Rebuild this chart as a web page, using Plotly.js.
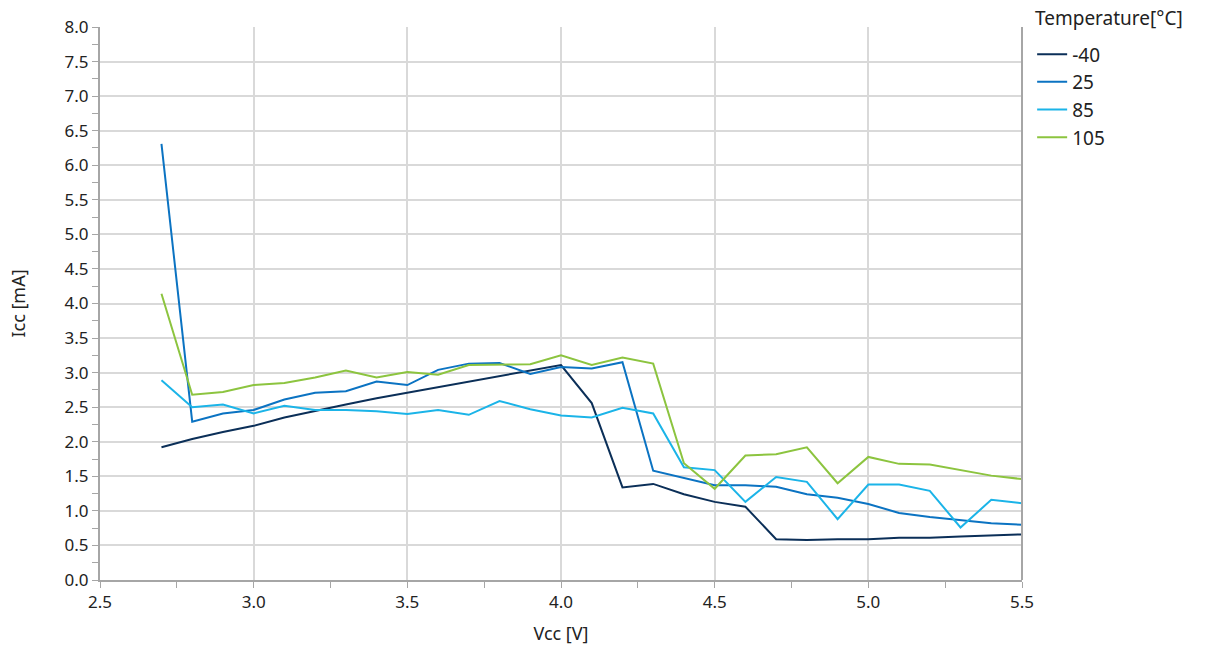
<!DOCTYPE html>
<html>
<head>
<meta charset="utf-8">
<script src="https://cdn.plot.ly/plotly-3.0.1.min.js"></script>
<style>html,body{margin:0;padding:0;background:#fff;}#chart{width:1206px;height:649px;}</style>
</head>
<body>
<div id="chart"></div>
<script>
const vcc = [2.7,2.8,2.9,3.0,3.1,3.2,3.3,3.4,3.5,3.6,3.7,3.8,3.9,4.0,4.1,4.2,4.3,4.4,4.5,4.6,4.7,4.8,4.9,5.0,5.1,5.2,5.3,5.4,5.5];
const seriesNames = ["-40","25","85","105"];
const legendTitle = "Temperature[°C]";
const iccM40 = [1.92,2.04,2.14,2.23,2.35,2.45,2.54,2.63,2.71,2.79,2.87,2.95,3.03,3.11,2.56,1.34,1.39,1.24,1.13,1.06,0.59,0.58,0.59,0.59,0.61,0.61,0.63,0.65,0.66];
const icc25  = [6.31,2.29,2.41,2.46,2.61,2.71,2.73,2.87,2.82,3.04,3.13,3.14,2.98,3.08,3.06,3.15,1.58,1.48,1.37,1.37,1.35,1.24,1.19,1.10,0.97,0.91,0.86,0.82,0.80];
const icc85  = [2.89,2.50,2.54,2.41,2.52,2.46,2.46,2.44,2.40,2.46,2.39,2.59,2.47,2.38,2.35,2.49,2.41,1.63,1.59,1.13,1.49,1.42,0.88,1.38,1.38,1.29,0.76,1.16,1.11];
const icc105 = [4.14,2.68,2.72,2.82,2.85,2.93,3.03,2.93,3.01,2.97,3.11,3.11,3.12,3.25,3.11,3.22,3.13,1.69,1.32,1.80,1.82,1.92,1.40,1.78,1.68,1.67,1.59,1.51,1.46];
const colors = ["#0b2f58","#0b73c2","#1bb4e8","#8cc43f"];
const allY = [iccM40, icc25, icc85, icc105];

const traces = allY.map((y,i)=>({
  x: vcc, y: y, name: seriesNames[i], type: 'scatter', mode: 'lines',
  line: {color: colors[i], width: 2}
}));

const font = "Noto Sans, Open Sans, sans-serif";
const layout = {
  width: 1206, height: 649,
  margin: {l: 100, r: 184, t: 27, b: 69, autoexpand: false},
  paper_bgcolor: '#fff', plot_bgcolor: '#fff',
  font: {family: font, size: 16, color: '#222'},
  showlegend: true,
  legend: {
    x: 1.011, xanchor: 'left', y: 0.985, yanchor: 'top',
    font: {size: 19, color: '#222'},
    tracegroupgap: 0, itemwidth: 30
  },
  annotations: [{
    text: legendTitle, xref: 'paper', yref: 'paper', x: 1.012, y: 1.0163,
    xanchor: 'left', yanchor: 'middle', showarrow: false,
    font: {size: 19, color: '#222'}
  }],
  xaxis: {
    range: [2.5, 5.5], dtick: 0.5, tick0: 2.5, tickformat: '.1f',
    showgrid: true, gridcolor: '#d9d9d9', gridwidth: 2,
    showline: true, linecolor: '#a6a6a6', linewidth: 2,
    ticks: 'outside', ticklen: 6, tickcolor: '#a6a6a6', tickwidth: 1,
    minor: {dtick: 0.25, ticks: 'outside', ticklen: 6, tickcolor: '#a6a6a6', showgrid: false},
    zeroline: false,
    tickfont: {size: 17, color: '#222'},
    title: {text: 'Vcc [V]', font: {size: 18, color: '#222'}, standoff: 15}
  },
  yaxis: {
    range: [0, 8], dtick: 0.5, tickformat: '.1f',
    showgrid: true, gridcolor: '#d9d9d9', gridwidth: 2,
    showline: true, linecolor: '#a6a6a6', linewidth: 2,
    ticks: 'outside', ticklen: 6, tickcolor: '#a6a6a6', tickwidth: 1,
    minor: {dtick: 0.25, ticks: 'outside', ticklen: 6, tickcolor: '#a6a6a6', showgrid: false},
    zeroline: false,
    tickfont: {size: 17, color: '#222'},
    title: {text: 'Icc [mA]', font: {size: 18, color: '#222'}, standoff: 34}
  },
  shapes: [{type: 'line', xref: 'paper', yref: 'paper', x0: 1, x1: 1, y0: 0, y1: 1,
            line: {color: '#a6a6a6', width: 2}}]
};

Plotly.newPlot('chart', traces, layout, {displayModeBar: false, staticPlot: true});
</script>
</body>
</html>
